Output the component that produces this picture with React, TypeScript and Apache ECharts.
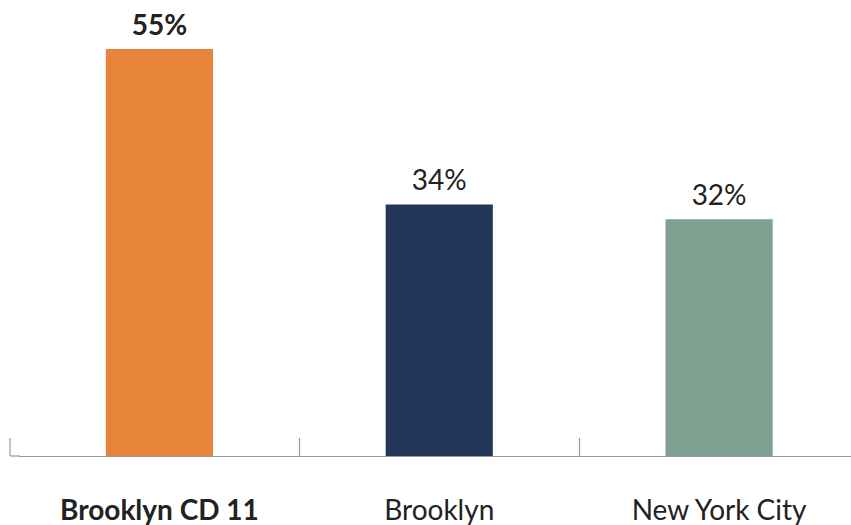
import React, { useEffect, useRef } from "react";
import * as echarts from "echarts";

const categories = ["Brooklyn CD 11", "Brooklyn", "New York City"];
const values = [55, 34, 32];
const colors = ["#E8833A", "#22375A", "#7FA191"];
const boldIndex = 0;

export default function App() {
  const ref = useRef<HTMLDivElement>(null);
  useEffect(() => {
    const chart = echarts.init(ref.current!, null, { renderer: "svg" });
    const font = "Lato, 'Noto Sans', sans-serif";
    chart.setOption({
      animation: false,
      textStyle: { fontFamily: font },
      grid: { left: 19.5, right: 0, top: 12, bottom: 69 },
      xAxis: {
        type: "category",
        data: categories.map((c, i) => ({
          value: c,
          textStyle: { fontWeight: i === boldIndex ? "bold" : "normal" },
        })),
        axisLine: { show: true, lineStyle: { color: "#9a9a9a", width: 1.2 } },
        axisTick: {
          show: true,
          inside: true,
          length: 18,
          interval: (index: number) => index !== 0,
          lineStyle: { color: "#9a9a9a", width: 1.2 },
        },
        axisLabel: { color: "#222", fontSize: 28, margin: 39, fontFamily: font },
      },
      yAxis: { type: "value", min: 0, max: 60, show: false, splitLine: { show: false } },
      graphic: [
        { type: "line", shape: { x1: 10, y1: 456, x2: 20, y2: 456 }, style: { stroke: "#9a9a9a", lineWidth: 1.2 } },
        { type: "line", shape: { x1: 10, y1: 438, x2: 10, y2: 456 }, style: { stroke: "#9a9a9a", lineWidth: 1.2 } },
      ],
      series: [
        {
          type: "bar",
          barWidth: "38.3%",
          data: values.map((v, i) => ({
            value: v,
            itemStyle: { color: colors[i] },
            label: { fontWeight: i === boldIndex ? "bold" : "normal" },
          })),
          label: {
            show: true,
            position: "top",
            distance: 11,
            formatter: "{c}%",
            color: "#222",
            fontSize: 28,
            fontFamily: font,
          },
        },
      ],
    });
    return () => chart.dispose();
  }, []);
  return (
    <div style={{ position: "fixed", left: 0, top: 0, width: 851, height: 525, overflow: "hidden", background: "#fff" }}>
      <div ref={ref} style={{ width: 859, height: 525 }} />
    </div>
  );
}
